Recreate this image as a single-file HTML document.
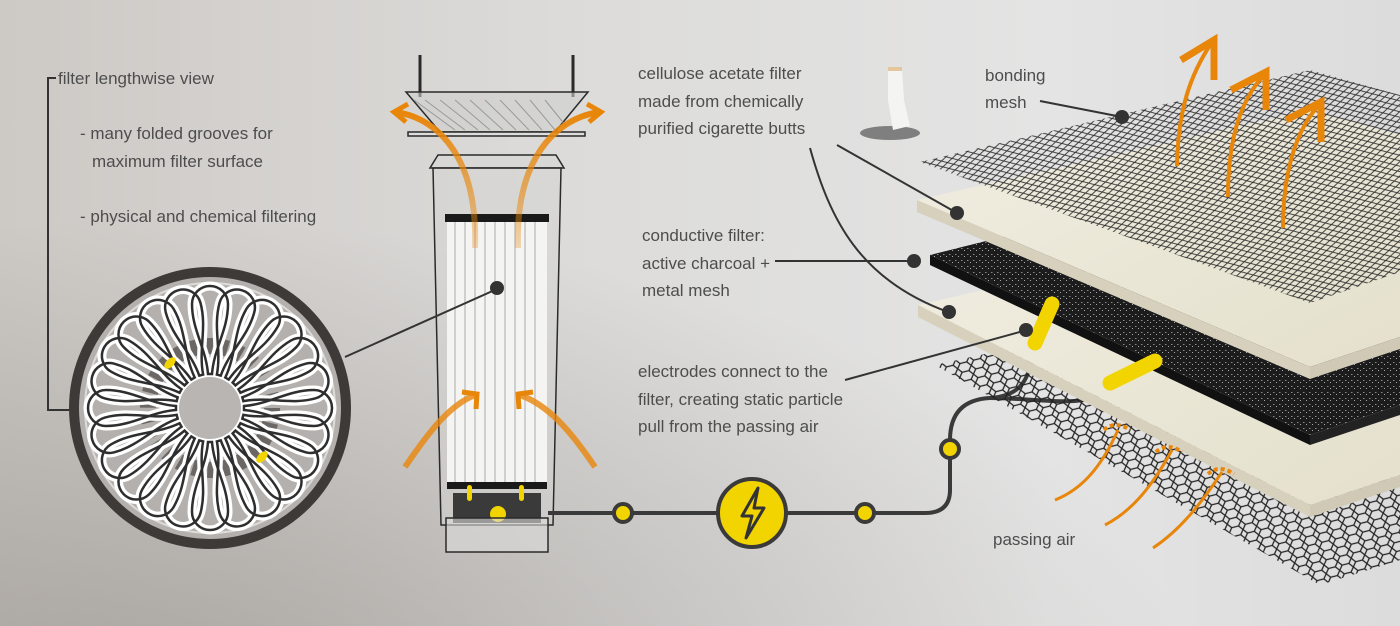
<!DOCTYPE html>
<html><head><meta charset="utf-8"><style>
html,body{margin:0;padding:0;width:1400px;height:626px;overflow:hidden}
svg{display:block}
text{font-family:"Liberation Sans",sans-serif;font-size:17px;fill:#4d4d4d}
</style></head><body>
<svg width="1400" height="626" viewBox="0 0 1400 626" xmlns="http://www.w3.org/2000/svg">
<defs>
<linearGradient id="bg" x1="0" y1="0" x2="1" y2="0">
<stop offset="0" stop-color="#cdc9c5"/><stop offset="0.4" stop-color="#dcdbd9"/><stop offset="0.75" stop-color="#e4e4e4"/><stop offset="1" stop-color="#dcdcdc"/>
</linearGradient>
<radialGradient id="bgb" cx="0.1" cy="1.1" r="0.75">
<stop offset="0" stop-color="#8a8580" stop-opacity="0.55"/><stop offset="1" stop-color="#8a8580" stop-opacity="0"/>
</radialGradient>
<pattern id="mesh" width="11" height="6" patternUnits="userSpaceOnUse" patternTransform="rotate(-14)">
<path d="M0,3 L5.5,0 L11,3 L5.5,6 Z" fill="none" stroke="#2a2a2a" stroke-width="0.9"/>
</pattern>
<pattern id="mesh2" width="14" height="9" patternUnits="userSpaceOnUse" patternTransform="rotate(-14)">
<path d="M0,4.5 L3.5,0 L10.5,0 L14,4.5 L10.5,9 L3.5,9 Z" fill="none" stroke="#222" stroke-width="1.3"/>
</pattern>
<pattern id="char" width="6" height="6" patternUnits="userSpaceOnUse">
<rect width="6" height="6" fill="#1c1c1c"/><rect x="1" y="2" width="1.5" height="1" fill="#888"/><rect x="4" y="4" width="1" height="1" fill="#aaa"/>
</pattern>
<linearGradient id="cel" x1="0" y1="0" x2="1" y2="1">
<stop offset="0" stop-color="#f1eee2"/><stop offset="1" stop-color="#e4e0cc"/>
</linearGradient>
<path id="petal" d="M-2,-34 C-4,-60 -18,-78 -18,-104 A18,18 0 1 1 18,-104 C18,-78 4,-60 2,-34 Z"/>
<linearGradient id="fade2" x1="0" y1="1" x2="0" y2="0"><stop offset="0" stop-color="#e8860a" stop-opacity="0.3"/><stop offset="1" stop-color="#e8860a"/></linearGradient>
</defs>
<rect width="1400" height="626" fill="url(#bg)"/>
<rect width="1400" height="626" fill="url(#bgb)"/>

<path d="M56,78 L48,78 L48,410 L75,410" fill="none" stroke="#333" stroke-width="2"/>
<text x="58" y="84">filter lengthwise view</text>
<text x="80" y="139">- many folded grooves for</text>
<text x="92" y="167">maximum filter surface</text>
<text x="80" y="222">- physical and chemical filtering</text>

<circle cx="210" cy="408" r="136" fill="#b3b0ad" stroke="#3d3a38" stroke-width="10"/>
<circle cx="210" cy="408" r="125" fill="none" stroke="#dedbd8" stroke-width="2"/>
<circle cx="210" cy="408" r="62" fill="none" stroke="#6a6765" stroke-width="16" stroke-dasharray="10 5"/>
<g transform="translate(210,408)" fill="none">
<g stroke="#fff" stroke-width="9">
<use href="#petal" transform="rotate(0)"/><use href="#petal" transform="rotate(15)"/><use href="#petal" transform="rotate(30)"/><use href="#petal" transform="rotate(45)"/><use href="#petal" transform="rotate(60)"/><use href="#petal" transform="rotate(75)"/><use href="#petal" transform="rotate(90)"/><use href="#petal" transform="rotate(105)"/><use href="#petal" transform="rotate(120)"/><use href="#petal" transform="rotate(135)"/><use href="#petal" transform="rotate(150)"/><use href="#petal" transform="rotate(165)"/><use href="#petal" transform="rotate(180)"/><use href="#petal" transform="rotate(195)"/><use href="#petal" transform="rotate(210)"/><use href="#petal" transform="rotate(225)"/><use href="#petal" transform="rotate(240)"/><use href="#petal" transform="rotate(255)"/><use href="#petal" transform="rotate(270)"/><use href="#petal" transform="rotate(285)"/><use href="#petal" transform="rotate(300)"/><use href="#petal" transform="rotate(315)"/><use href="#petal" transform="rotate(330)"/><use href="#petal" transform="rotate(345)"/>
</g>
<g stroke="#2e2e2e" stroke-width="2.5">
<use href="#petal" transform="rotate(0)"/><use href="#petal" transform="rotate(15)"/><use href="#petal" transform="rotate(30)"/><use href="#petal" transform="rotate(45)"/><use href="#petal" transform="rotate(60)"/><use href="#petal" transform="rotate(75)"/><use href="#petal" transform="rotate(90)"/><use href="#petal" transform="rotate(105)"/><use href="#petal" transform="rotate(120)"/><use href="#petal" transform="rotate(135)"/><use href="#petal" transform="rotate(150)"/><use href="#petal" transform="rotate(165)"/><use href="#petal" transform="rotate(180)"/><use href="#petal" transform="rotate(195)"/><use href="#petal" transform="rotate(210)"/><use href="#petal" transform="rotate(225)"/><use href="#petal" transform="rotate(240)"/><use href="#petal" transform="rotate(255)"/><use href="#petal" transform="rotate(270)"/><use href="#petal" transform="rotate(285)"/><use href="#petal" transform="rotate(300)"/><use href="#petal" transform="rotate(315)"/><use href="#petal" transform="rotate(330)"/><use href="#petal" transform="rotate(345)"/>
</g>
</g>
<circle cx="210" cy="408" r="31" fill="#b8b5b2"/>
<ellipse cx="170" cy="363" rx="4" ry="7" fill="#f2d400" transform="rotate(45 170 363)"/>
<ellipse cx="262" cy="457" rx="4" ry="7" fill="#f2d400" transform="rotate(45 262 457)"/>

<g fill="none" stroke="#2a2a2a" stroke-width="1.5">
<line x1="420" y1="55" x2="420" y2="97" stroke-width="3"/><line x1="573" y1="55" x2="573" y2="97" stroke-width="3"/>
<path d="M406,92 L588,92 L555,132 L440,132 Z" fill="#cfcfcd" fill-opacity="0.6"/>
<path d="M408,132 L585,132 L585,136 L408,136 Z" fill="#ddd"/>
<path d="M438,155 L556,155 L564,168 L430,168 Z" fill="#d8d8d6"/>
<path d="M433,168 L561,168 L553,525 L441,525 Z" fill="#d4d4d2" fill-opacity="0.5"/>
</g>
<g stroke="#999" stroke-width="1" fill="none">
<path d="M414,100 L455,130 M425,100 L465,130 M440,100 L478,130 M455,100 L490,130 M470,100 L503,130 M485,100 L516,130 M500,100 L529,130 M515,100 L542,130 M530,100 L555,130 M545,100 L566,126"/>
</g>
<rect x="447" y="218" width="100" height="270" fill="#f4f4f2"/>
<g stroke="#cfcfcf" stroke-width="2">
<line x1="455" y1="222" x2="455" y2="485"/><line x1="465" y1="222" x2="465" y2="485"/><line x1="475" y1="222" x2="475" y2="485"/><line x1="485" y1="222" x2="485" y2="485"/><line x1="495" y1="222" x2="495" y2="485"/><line x1="505" y1="222" x2="505" y2="485"/><line x1="515" y1="222" x2="515" y2="485"/><line x1="525" y1="222" x2="525" y2="485"/><line x1="535" y1="222" x2="535" y2="485"/>
</g>
<rect x="445" y="214" width="104" height="8" fill="#1a1a1a"/>
<rect x="447" y="482" width="100" height="7" fill="#1a1a1a"/>
<rect x="453" y="493" width="88" height="30" fill="#3a3a3a"/>
<rect x="467" y="485" width="5" height="16" rx="2.5" fill="#f2d400"/>
<rect x="519" y="485" width="5" height="16" rx="2.5" fill="#f2d400"/>
<circle cx="498" cy="514" r="8" fill="#f2d400"/>
<rect x="446" y="518" width="102" height="34" fill="#dadad8" fill-opacity="0.6" stroke="#2a2a2a" stroke-width="1.5"/>
<line x1="345" y1="357" x2="497" y2="289" stroke="#333" stroke-width="2"/>
<circle cx="497" cy="288" r="7" fill="#333"/>
<g fill="none" stroke-width="6" stroke-linecap="butt">
<path d="M475,248 C478,160 440,118 395,112" stroke="url(#fade2)"/>
<path d="M518,248 C515,160 555,118 600,112" stroke="url(#fade2)"/>
<path d="M405,467 C430,430 450,405 475,395" stroke="#e8860a" stroke-opacity="0.8"/>
<path d="M595,467 C570,430 548,405 520,395" stroke="#e8860a" stroke-opacity="0.8"/>
</g>
<g fill="none" stroke="#e8860a" stroke-width="5">
<path d="M408,104 L394,112 L406,122"/><path d="M587,104 L601,112 L589,122"/>
<path d="M462,392 L477,394 L476,409"/><path d="M533,392 L518,394 L519,409"/>
</g>

<g fill="none" stroke="#3a3a3a" stroke-width="4">
<path d="M548,513 L925,513 Q950,513 950,490 L950,440 Q950,400 990,398 C1020,396 1030,380 1032,352"/>
<path d="M990,398 C1040,398 1090,410 1108,388"/>
</g>
<circle cx="623" cy="513" r="9" fill="#f2d400" stroke="#3a3a3a" stroke-width="4"/>
<circle cx="865" cy="513" r="9" fill="#f2d400" stroke="#3a3a3a" stroke-width="4"/>
<circle cx="950" cy="449" r="9" fill="#f2d400" stroke="#3a3a3a" stroke-width="4"/>
<circle cx="752" cy="513" r="34" fill="#f2d400" stroke="#3a3a3a" stroke-width="4"/>
<path d="M758,488 L742,516 L752,516 L746,538 L764,508 L754,508 Z" fill="none" stroke="#333" stroke-width="3" stroke-linejoin="round"/>

<path d="M935,365 L1320,585 L1400,560 L1400,305 L1320,280 Z" fill="url(#mesh2)"/>
<path d="M918,305 L1310,505 L1400,475 L1400,240 L1310,215 Z" fill="url(#cel)"/>
<path d="M918,305 L1310,505 L1310,517 L918,317 Z" fill="#d6d0bd"/>
<path d="M1310,505 L1400,475 L1400,487 L1310,517 Z" fill="#cfc9b5"/>
<path d="M930,255 L1310,435 L1400,405 L1400,180 L1310,160 Z" fill="url(#char)"/>
<path d="M930,255 L1310,435 L1310,445 L930,265 Z" fill="#111"/>
<path d="M1310,435 L1400,405 L1400,415 L1310,445 Z" fill="#222"/>
<path d="M917,200 L1310,367 L1400,337 L1400,135 L1310,110 Z" fill="url(#cel)"/>
<path d="M917,200 L1310,367 L1310,379 L917,212 Z" fill="#d6d0bd"/>
<path d="M1310,367 L1400,337 L1400,349 L1310,379 Z" fill="#cfc9b5"/>
<path d="M920,162 L1310,303 L1400,272 L1400,95 L1310,70 Z" fill="url(#mesh)"/>

<line x1="1035" y1="343" x2="1052" y2="304" stroke="#f2d400" stroke-width="15" stroke-linecap="round"/>
<line x1="1110" y1="383" x2="1155" y2="361" stroke="#f2d400" stroke-width="15" stroke-linecap="round"/>

<g fill="none" stroke="#e8860a" stroke-width="4">
<path d="M1177,166 C1178,110 1190,75 1212,42"/><path d="M1181,60 L1214,40 L1214,80" stroke-width="7"/>
<path d="M1228,197 C1228,140 1240,100 1265,74"/><path d="M1231,90 L1266,72 L1266,110" stroke-width="7"/>
<path d="M1283,228 C1283,175 1295,130 1320,104"/><path d="M1286,120 L1321,102 L1321,142" stroke-width="7"/>
<path d="M1055,500 C1080,490 1100,470 1118,430" stroke-width="3"/>
<path d="M1105,525 C1130,512 1150,490 1172,450" stroke-width="3"/>
<path d="M1153,548 C1180,530 1200,505 1222,472" stroke-width="3"/>
<path d="M1104,430 Q1115,420 1130,430" stroke-dasharray="4 3" stroke-width="4"/>
<path d="M1156,452 Q1167,442 1182,452" stroke-dasharray="4 3" stroke-width="4"/>
<path d="M1208,474 Q1219,464 1234,474" stroke-dasharray="4 3" stroke-width="4"/>
</g>

<ellipse cx="890" cy="133" rx="30" ry="7" fill="#555" fill-opacity="0.7"/>
<path d="M888,70 L902,68 L904,100 L910,126 L893,130 L888,100 Z" fill="#f4f4f2"/>
<rect x="888" y="67" width="14" height="4" fill="#e3c79a"/>

<g stroke="#333" stroke-width="2" fill="none">
<line x1="1040" y1="101" x2="1122" y2="117"/>
<line x1="837" y1="145" x2="957" y2="213"/>
<path d="M810,148 C830,220 860,280 948,312"/>
<line x1="775" y1="261" x2="913" y2="261"/>
<line x1="845" y1="380" x2="1027" y2="330"/>
</g>
<g fill="#333"><circle cx="1122" cy="117" r="7"/><circle cx="957" cy="213" r="7"/><circle cx="949" cy="312" r="7"/><circle cx="914" cy="261" r="7"/><circle cx="1026" cy="330" r="7"/></g>

<text x="638" y="79">cellulose acetate filter</text>
<text x="638" y="107">made from chemically</text>
<text x="638" y="134">purified cigarette butts</text>
<text x="985" y="81">bonding</text>
<text x="985" y="108">mesh</text>
<text x="642" y="241">conductive filter:</text>
<text x="642" y="269">active charcoal +</text>
<text x="642" y="296">metal mesh</text>
<text x="638" y="377">electrodes connect to the</text>
<text x="638" y="405">filter, creating static particle</text>
<text x="638" y="432">pull from the passing air</text>
<text x="993" y="545">passing air</text>
</svg>
</body></html>
